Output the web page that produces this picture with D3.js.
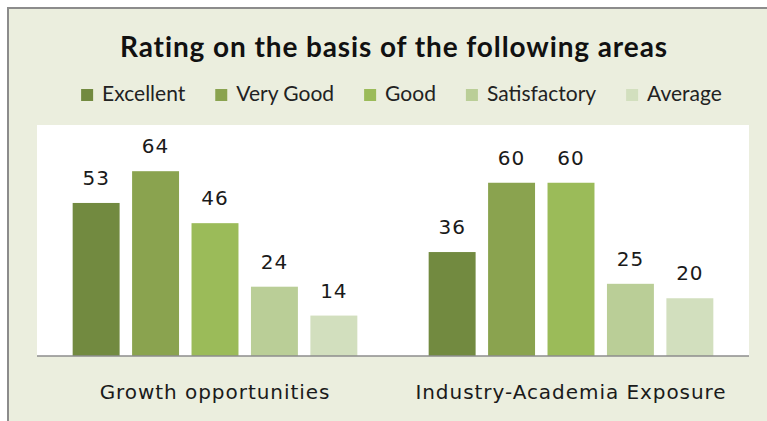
<!DOCTYPE html>
<html>
<head>
<meta charset="utf-8">
<script src="https://cdn.jsdelivr.net/npm/d3@7"></script>
<style>
  html, body { margin: 0; padding: 0; background: #ffffff; }
  svg { display: block; }
</style>
</head>
<body>
<svg id="chart" width="767" height="421"></svg>
<script>
// ---- data ----
const categories = ["Growth opportunities", "Industry-Academia Exposure"];
const seriesNames = ["Excellent", "Very Good", "Good", "Satisfactory", "Average"];
const excellent    = [53, 36];
const veryGood     = [64, 60];
const good         = [46, 60];
const satisfactory = [24, 25];
const average      = [14, 20];
const seriesColors = ["#728A40", "#8AA34F", "#9BBB59", "#BACE97", "#D2DFBE"];
const titleText = "Rating on the basis of the following areas";
const yMax = 80;

const seriesValues = [excellent, veryGood, good, satisfactory, average];

const svg = d3.select("#chart");
const W = 767, H = 421;

// chart area background + border
svg.append("rect")
  .attr("x", 8).attr("y", 8)
  .attr("width", W + 10).attr("height", H + 10)
  .attr("fill", "#EBEEDE")
  .attr("stroke", "#8C8C8C")
  .attr("stroke-width", 2);

// plot area
const plot = { left: 37, right: 749, top: 125, bottom: 356 };
svg.append("rect")
  .attr("x", plot.left).attr("y", plot.top)
  .attr("width", plot.right - plot.left).attr("height", plot.bottom - plot.top)
  .attr("fill", "#ffffff");

const x0 = d3.scaleBand().domain(categories).range([plot.left, plot.right]).padding(0);
const x1 = d3.scaleBand().domain(seriesNames).range([0, x0.bandwidth()])
  .paddingInner(0.21).paddingOuter(0.6);
const y = d3.scaleLinear().domain([0, yMax]).range([plot.bottom, plot.top]);

const rows = [];
categories.forEach((c, ci) => {
  seriesNames.forEach((s, si) => {
    rows.push({ cat: c, series: s, value: seriesValues[si][ci], color: seriesColors[si] });
  });
});

svg.append("g").selectAll("rect")
  .data(rows).join("rect")
  .attr("x", d => x0(d.cat) + x1(d.series))
  .attr("y", d => y(d.value))
  .attr("width", x1.bandwidth())
  .attr("height", d => y(0) - y(d.value))
  .attr("fill", d => d.color);

// data labels
svg.append("g").selectAll("text")
  .data(rows).join("text")
  .attr("x", d => x0(d.cat) + x1(d.series) + x1.bandwidth() / 2)
  .attr("y", d => y(d.value) - 18)
  .attr("text-anchor", "middle")
  .attr("font-family", "DejaVu Sans, Verdana, sans-serif")
  .attr("font-size", 20)
  .attr("letter-spacing", 1)
  .attr("fill", "#1a1a1a")
  .text(d => d.value);

// x axis
const xAxis = d3.axisBottom(x0).tickSize(0).tickPadding(0);
const gx = svg.append("g").attr("transform", `translate(0,${plot.bottom})`).call(xAxis);
gx.select(".domain").attr("stroke", "#8C8C8C").attr("stroke-width", 1.5)
  .attr("d", `M${plot.left},0H${plot.right}`);
gx.selectAll(".tick text")
  .attr("y", 43).attr("dy", null)
  .attr("font-family", "DejaVu Sans, Verdana, sans-serif")
  .attr("font-size", 20)
  .attr("letter-spacing", 0.95)
  .attr("fill", "#1a1a1a");

// title
svg.append("text")
  .attr("x", 394).attr("y", 57)
  .attr("text-anchor", "middle")
  .attr("font-family", "Lato, Carlito, Calibri, sans-serif")
  .attr("font-weight", "bold")
  .attr("font-size", 28)
  .attr("letter-spacing", 0.9)
  .attr("fill", "#111")
  .text(titleText);

// legend
const legend = svg.append("g");
const items = legend.selectAll("g").data(seriesNames).join("g");
items.append("rect")
  .attr("width", 12).attr("height", 12)
  .attr("y", 89)
  .attr("fill", (d, i) => seriesColors[i]);
items.append("text")
  .attr("x", 21).attr("y", 101)
  .attr("font-family", "Lato, Carlito, Calibri, sans-serif")
  .attr("font-size", 21)
  .attr("fill", "#222")
  .text(d => d);
let widths = [];
items.each(function () { widths.push(21 + d3.select(this).select("text").node().getComputedTextLength()); });
const gap = 30;
const total = d3.sum(widths) + gap * (widths.length - 1);
let cx = 401.5 - total / 2;
items.each(function (d, i) {
  d3.select(this).attr("transform", `translate(${cx},0)`);
  cx += widths[i] + gap;
});
</script>
</body>
</html>
